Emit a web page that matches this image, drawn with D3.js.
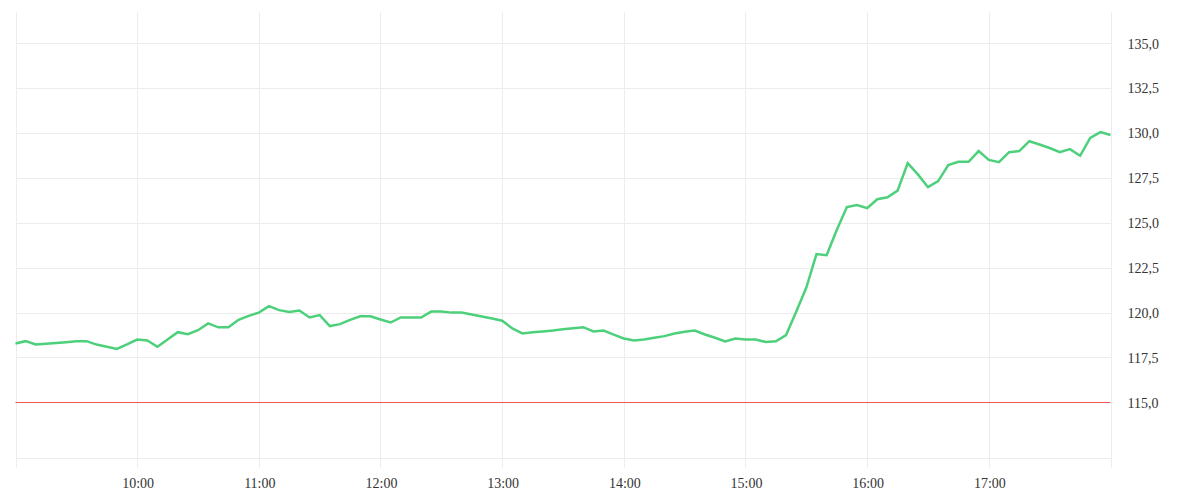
<!DOCTYPE html>
<html>
<head>
<meta charset="utf-8">
<script src="https://cdn.jsdelivr.net/npm/d3@7"></script>
<style>
  html, body { margin: 0; padding: 0; background: #fff; }
  svg { display: block; }
  text { font-family: "Liberation Serif", serif; font-size: 14px; fill: #333; }
</style>
</head>
<body>
<svg id="chart" width="1200" height="500"></svg>
<script>
// ---- data ----
const startTime = "09:00";
const endTime = "18:00";
const intervalMinutes = 5;
const prices = [
  118.28, 118.41, 118.23, 118.27, 118.31, 118.35, 118.40, 118.41, 118.22, 118.10,
  117.98, 118.23, 118.50, 118.45, 118.10, 118.50, 118.91, 118.80, 119.02, 119.40,
  119.18, 119.18, 119.60, 119.82, 120.00, 120.36, 120.14, 120.03, 120.12, 119.73,
  119.86, 119.25, 119.36, 119.60, 119.80, 119.80, 119.62, 119.45, 119.73, 119.73,
  119.73, 120.06, 120.06, 120.00, 120.00, 119.90, 119.78, 119.67, 119.55, 119.12,
  118.84, 118.90, 118.95, 119.00, 119.07, 119.13, 119.19, 118.95, 119.00, 118.77,
  118.56, 118.45, 118.50, 118.60, 118.69, 118.84, 118.93, 119.00, 118.78, 118.60,
  118.40, 118.56, 118.50, 118.50, 118.36, 118.40, 118.75, 120.05, 121.40, 123.26,
  123.20, 124.60, 125.88, 125.99, 125.82, 126.32, 126.43, 126.80, 128.33, 127.70,
  126.99, 127.33, 128.22, 128.40, 128.40, 129.00, 128.51, 128.38, 128.94, 129.00,
  129.55, 129.37, 129.17, 128.94, 129.11, 128.74, 129.74, 130.06, 129.90
];
const referenceLevel = 115.0;
const yTickValues = [115, 117.5, 120, 122.5, 125, 127.5, 130, 132.5, 135];
const xGridTimes = ["09:00","10:00","11:00","12:00","13:00","14:00","15:00","16:00","17:00","18:00"];
const xLabelTimes = ["10:00","11:00","12:00","13:00","14:00","15:00","16:00","17:00"];
const yDomain = [111.9, 136.75];

(function () {
  const parseTime = d3.timeParse("%H:%M");
  const t0 = parseTime(startTime);
  const series = prices.map((v, i) => ({ t: d3.timeMinute.offset(t0, i * intervalMinutes), v }));
  const locale = d3.formatLocale({ decimal: ",", thousands: ".", grouping: [3], currency: ["", "€"] });
  const fmtY = locale.format(".1f");

  const plotLeft = 15.5, plotRight = 1110.5, plotTop = 12, plotBottom = 458;
  const svg = d3.select("#chart");

  const x = d3.scaleTime().domain([parseTime(startTime), parseTime(endTime)]).range([plotLeft, plotRight]);
  const y = d3.scaleLinear().domain(yDomain).range([plotBottom, plotTop]);

  const grid = svg.append("g");
  grid.selectAll("line.h").data(yTickValues).join("line")
    .attr("class", "h")
    .attr("x1", plotLeft).attr("x2", plotRight)
    .attr("y1", d => Math.round(y(d)) + 0.5).attr("y2", d => Math.round(y(d)) + 0.5)
    .attr("stroke", "#ececec").attr("stroke-width", 1);
  grid.append("line")
    .attr("x1", plotLeft).attr("x2", plotRight)
    .attr("y1", plotBottom + 0.5).attr("y2", plotBottom + 0.5)
    .attr("stroke", "#ececec");
  grid.selectAll("line.v").data(xGridTimes.map(parseTime)).join("line")
    .attr("class", "v")
    .attr("x1", d => Math.round(x(d)) + 0.5).attr("x2", d => Math.round(x(d)) + 0.5)
    .attr("y1", plotTop).attr("y2", plotBottom + 10)
    .attr("stroke", "#ececec").attr("stroke-width", 1);

  svg.append("line")
    .attr("x1", plotLeft).attr("x2", plotRight)
    .attr("y1", Math.round(y(referenceLevel)) + 0.5).attr("y2", Math.round(y(referenceLevel)) + 0.5)
    .attr("stroke", "#f25757").attr("stroke-width", 1);

  const line = d3.line().x(d => x(d.t)).y(d => y(d.v));
  svg.append("path")
    .datum(series)
    .attr("d", line)
    .attr("fill", "none")
    .attr("stroke", "#4dd07b")
    .attr("stroke-width", 2.5)
    .attr("stroke-linejoin", "miter");

  svg.append("g").selectAll("text").data(yTickValues).join("text")
    .attr("x", plotRight + 17)
    .attr("y", d => y(d) + 2)
    .attr("dominant-baseline", "middle")
    .text(d => fmtY(d));

  const fmtX = d3.timeFormat("%H:%M");
  svg.append("g").selectAll("text").data(xLabelTimes.map(parseTime)).join("text")
    .attr("x", d => x(d) + 1)
    .attr("y", 488)
    .attr("text-anchor", "middle")
    .text(d => fmtX(d));
})();
</script>
</body>
</html>
